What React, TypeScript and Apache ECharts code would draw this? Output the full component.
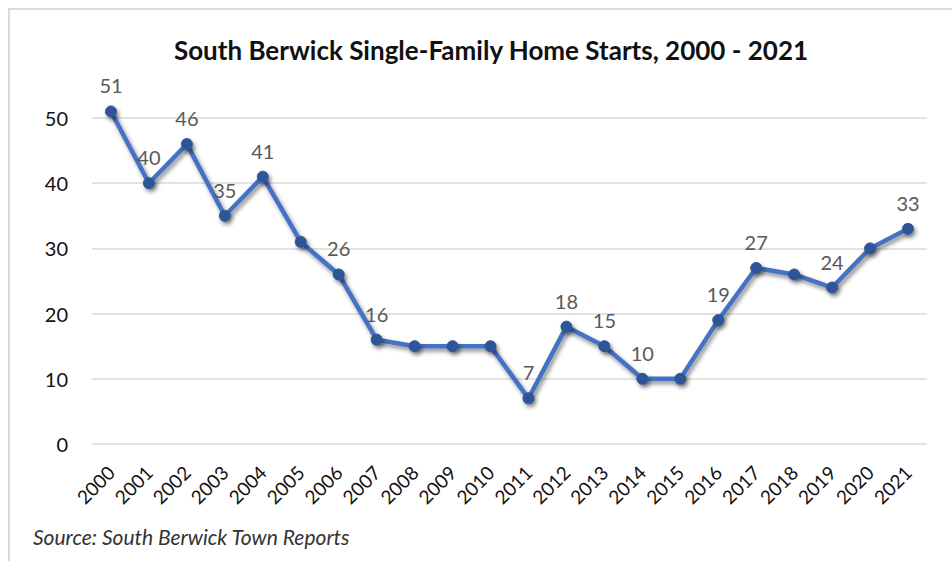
import React, { useEffect, useRef } from "react";
import * as echarts from "echarts";

const years = ["2000","2001","2002","2003","2004","2005","2006","2007","2008","2009","2010","2011","2012","2013","2014","2015","2016","2017","2018","2019","2020","2021"];
const starts = [51,40,46,35,41,31,26,16,15,15,15,7,18,15,10,10,19,27,26,24,30,33];
const labeledYears = ["2000","2001","2002","2003","2004","2006","2007","2011","2012","2013","2014","2016","2017","2019","2021"];
const yTicks = [0, 10, 20, 30, 40, 50];
const titleText = "South Berwick Single-Family Home Starts, 2000 - 2021";
const sourceText = "Source: South Berwick Town Reports";

const FONT = "Lato, 'Noto Sans', sans-serif";

export default function App() {
  const ref = useRef<HTMLDivElement>(null);
  useEffect(() => {
    document.body.style.margin = "0";
    if (!ref.current) return;
    const chart = echarts.init(ref.current, undefined, { renderer: "svg" });
    chart.setOption({
      animation: false,
      backgroundColor: "#ffffff",
      title: {
        text: titleText,
        left: 486,
        textAlign: "center",
        top: 32,
        textStyle: { fontFamily: FONT, fontSize: 26, fontWeight: "bold", color: "#111" },
      },
      graphic: [
        {
          type: "rect",
          shape: { x: 9, y: 9, width: 1000, height: 600 },
          style: { fill: "none", stroke: "#d9d9d9", lineWidth: 2 },
          silent: true,
        },
        {
          type: "text",
          left: 33,
          top: 526,
          style: { text: sourceText, fontFamily: FONT, fontStyle: "italic", fontSize: 21, fill: "#333" },
        },
      ],
      grid: { left: 92, right: 25, top: 118, bottom: 117 },
      xAxis: {
        type: "category",
        data: years,
        boundaryGap: true,
        axisLine: { show: false },
        axisTick: { show: false },
        axisLabel: { rotate: 45, fontFamily: FONT, fontSize: 19, color: "#111", margin: 25, interval: 0 },
      },
      yAxis: {
        type: "value",
        min: yTicks[0],
        max: yTicks[yTicks.length - 1],
        interval: 10,
        axisLine: { show: false },
        axisTick: { show: false },
        axisLabel: { fontFamily: FONT, fontSize: 20, color: "#111", margin: 24 },
        splitLine: { lineStyle: { color: "#d9d9d9", width: 1.5 } },
      },
      series: [
        {
          type: "line",
          clip: false,
          data: starts.map((v, i) => ({
            value: v,
            label: { show: labeledYears.includes(years[i]) },
          })),
          symbol: "circle",
          symbolSize: 11,
          lineStyle: {
            color: "#4472C4",
            width: 4.5,
            shadowColor: "rgba(0,0,0,0.45)",
            shadowBlur: 4,
            shadowOffsetX: 2,
            shadowOffsetY: 3,
          },
          itemStyle: {
            color: "#2F5597",
            borderColor: "#2F5597",
            shadowColor: "rgba(0,0,0,0.45)",
            shadowBlur: 4,
            shadowOffsetX: 2,
            shadowOffsetY: 3,
          },
          label: {
            position: "top",
            distance: 10,
            fontFamily: FONT,
            fontSize: 20,
            color: "#595959",
          },
        },
      ],
    });
    return () => chart.dispose();
  }, []);
  return <div ref={ref} style={{ width: 952, height: 561 }} />;
}
